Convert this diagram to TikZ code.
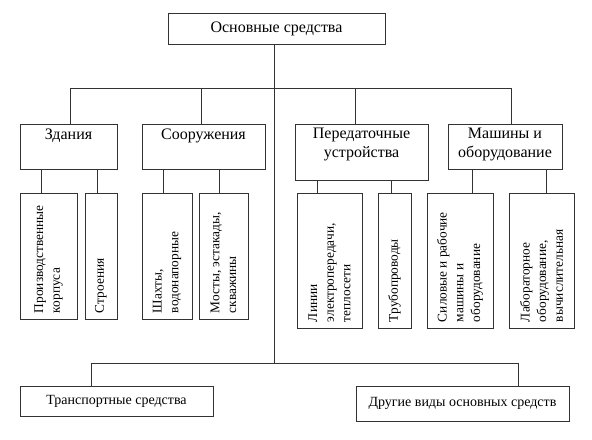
\documentclass[tikz,border=0pt]{standalone}
\usepackage{fontspec}
\setmainfont{Liberation Serif}

\tikzset{
	blokstil/.style={draw=black!80, line width=0.7pt, inner sep=0pt},
	verh/.style={anchor=north, align=center, text=black, font=\fontsize{12}{14}\selectfont},
	seredina/.style={align=center, text=black, font=\fontsize{12}{14}\selectfont},
	niz/.style={align=center, text=black, font=\fontsize{10.5}{13}\selectfont},
	vertik/.style={rotate=90, anchor=west, align=left, inner sep=4.5pt, text=black, font=\fontsize{10}{12.5}\selectfont},
}

\begin{document}
\begin{tikzpicture}[x=0.75pt,y=-0.75pt,line width=0.7pt,color=black!80]
	\useasboundingbox (0,0) rectangle (592,439);

	\def\blok#1#2#3#4#5#6{
		\node[blokstil, minimum width={(#4-#2)*0.75pt}, minimum height={(#5-#3)*0.75pt}, #6]
		(#1) at ({(#2+#4)/2},{(#3+#5)/2}) {};
	}

	\blok{osnovn}{168}{13}{385}{44}{label={[seredina]center:Основные средства}}

	\blok{zdaniya}{20}{124}{117}{169}{label={[verh]north:Здания}}
	\blok{sooruzh}{142}{124}{265}{169}{label={[verh]north:Сооружения}}
	\blok{peredat}{295}{124}{428}{180}{label={[verh]north:Передаточные\\устройства}}
	\blok{mashiny}{448}{124}{562}{169}{label={[verh]north:Машины и\\оборудование}}

	\blok{korpusa}{20}{193}{77}{319}{label={[vertik]south:Производственные\\корпуса}}
	\blok{stroeniya}{85}{193}{117}{319}{label={[vertik]south:Строения}}
	\blok{shakhty}{142}{193}{192}{319}{label={[vertik]south:{Шахты,\\водонапорные}}}
	\blok{mosty}{199}{193}{248}{319}{label={[vertik]south:{Мосты, эстакады,\\скважины}}}
	\blok{linii}{297}{193}{362}{328}{label={[vertik]south:{Линии\\электропередачи,\\теплосети}}}
	\blok{truby}{378}{193}{411}{328}{label={[vertik]south:Трубопроводы}}
	\blok{silovye}{427}{193}{493}{328}{label={[vertik]south:Силовые и рабочие\\машины и\\оборудование}}
	\blok{labor}{509}{193}{574}{328}{label={[vertik]south:{Лабораторное\\оборудование,\\вычислительная}}}

	\blok{transp}{20}{386}{213}{416}{label={[niz]center:Транспортные средства}}
	\blok{drugie}{356}{386}{569}{421}{label={[niz]center:Другие виды основных средств}}

	% shiny
	\coordinate (shina1l) at (70,88);
	\coordinate (shina1r) at (511,88);
	\coordinate (shina2l) at (91,363);
	\coordinate (shina2r) at (518,363);
	\coordinate (stvol) at (274,0);

	\draw (osnovn.south -| stvol) -- (shina2l -| stvol);
	\draw (shina1l) -- (shina1r);
	\draw (shina2l) -- (shina2r);

	\foreach \n/\x in {zdaniya/70, sooruzh/201, peredat/355, mashiny/511}{
		\coordinate (hx) at (\x,0);
		\draw (hx |- shina1l) -- (hx |- \n.north);
	}

	\foreach \v/\n/\x in {zdaniya/korpusa/41, zdaniya/stroeniya/97,
		sooruzh/shakhty/163, sooruzh/mosty/219,
		peredat/linii/317, peredat/truby/391,
		mashiny/silovye/472, mashiny/labor/546}{
		\coordinate (hx) at (\x,0);
		\draw (hx |- \v.south) -- (hx |- \n.north);
	}

	\draw (shina2l) -- (shina2l |- transp.north);
	\draw (shina2r) -- (shina2r |- drugie.north);
\end{tikzpicture}
\end{document}
